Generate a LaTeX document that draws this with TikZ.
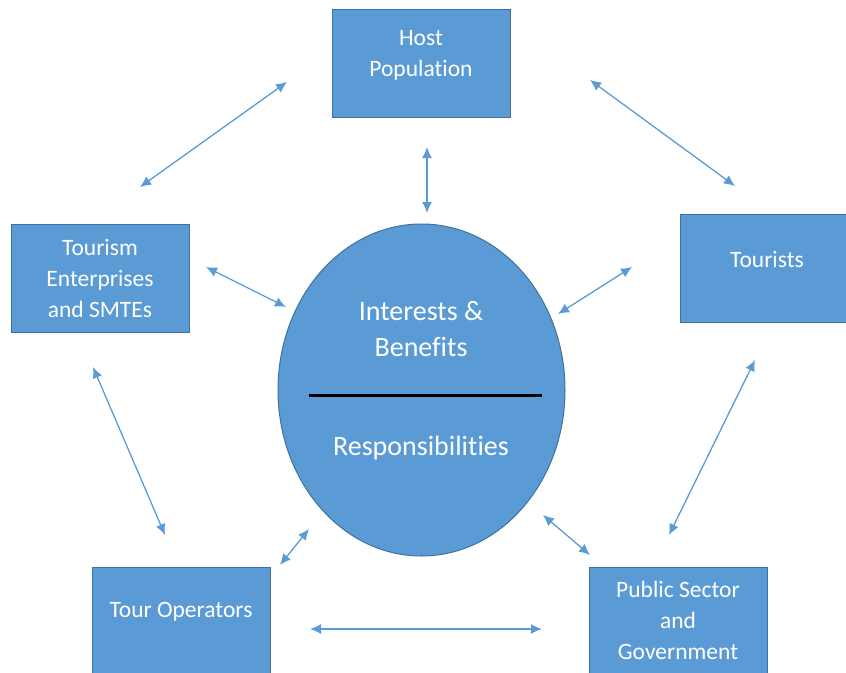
\documentclass[tikz,border=0pt]{standalone}
\usepackage{fontspec}
\setmainfont{Carlito}[Ligatures={NoCommon}]
\usetikzlibrary{arrows.meta,shapes.geometric}
\definecolor{boxBlue}{HTML}{5B9BD5}
\definecolor{boxEdge}{HTML}{41719C}
\newcommand{\boxFont}{\fontsize{23.5}{31}\selectfont}
\newcommand{\hubFont}{\fontsize{28}{36}\selectfont}
\newcommand{\boxWidth}{178}
\newcommand{\boxHeight}{108}
\newcommand{\pageWidth}{846}
\newcommand{\pageHeight}{672}

\begin{document}
\begin{tikzpicture}[x=1pt,y=-1pt,
    stakeBox/.style={draw=boxEdge,fill=boxBlue,line width=1pt,inner sep=0pt,
        minimum width=\boxWidth pt,minimum height=\boxHeight pt},
    boxText/.style={text=white,font=\boxFont,align=center},
    hubText/.style={text=white,font=\hubFont,align=center},
    linkArrow/.style={draw=boxBlue,line width=1.3pt,
        {Latex[length=11pt,width=10pt]}-{Latex[length=11pt,width=10pt]}}]
    \useasboundingbox (0,0) rectangle (\pageWidth,\pageHeight);
    \clip (0,0) rectangle (\pageWidth,\pageHeight);

    % stakeholders
    \node[stakeBox] (host) at (421,63.5) {};
    \node[boxText] (hostText) at (421,55) {Host\\Population};
    \node[stakeBox] (enterprise) at (100,278) {};
    \node[boxText] (enterpriseText) at (100,278) {Tourism\\Enterprises\\and SMTEs};
    \node[stakeBox] (tourists) at (769,268.5) {};
    \node[boxText] (touristsText) at (767,259) {Tourists};
    \node[stakeBox] (operators) at (181,621) {};
    \node[boxText] (operatorsText) at (181,612) {Tour Operators};
    \node[stakeBox] (public) at (678,621) {};
    \node[boxText] (publicText) at (678,620) {Public Sector\\and\\Government};

    % centre
    \node[ellipse,draw=boxEdge,fill=boxBlue,line width=1pt,inner sep=0pt,
        minimum width=287pt,minimum height=332pt] (hub) at (421.5,390) {};
    \node[hubText] (benefits) at (421,329) {Interests \&\\Benefits};
    \node[hubText] (duties) at (421,448) {Responsibilities};
    \coordinate (dividerL) at (309,395);
    \coordinate (dividerR) at (542,395);
    \draw[line width=3pt] (dividerL) -- (dividerR);

    % links
    \foreach \linkName/\sx/\sy/\ex/\ey in {
        hostEnt/140/187/287/82,
        hostHub/427/147/427/213,
        hostTour/590/80/735/186,
        entHub/206/267/286/307,
        tourHub/632/267/558/314,
        entOper/93/367/165/535,
        tourPub/755/360/669/535,
        operHub/280/565/309/529,
        pubHub/590/555/543/515,
        operPub/310/629/542/629} {
        \coordinate (\linkName A) at (\sx,\sy);
        \coordinate (\linkName B) at (\ex,\ey);
        \draw[linkArrow] (\linkName A) -- (\linkName B);
    }
\end{tikzpicture}
\end{document}
